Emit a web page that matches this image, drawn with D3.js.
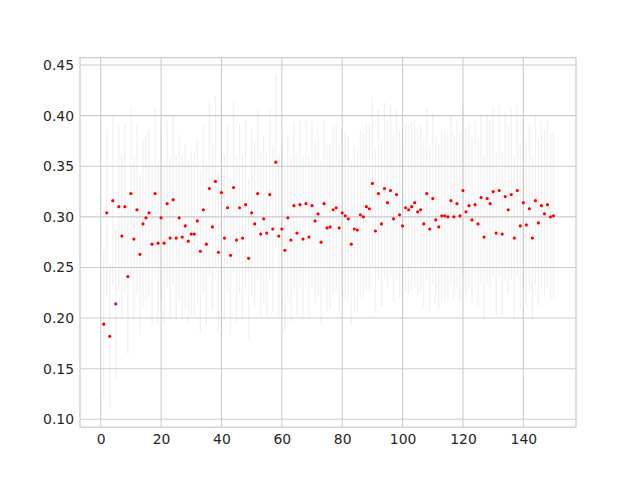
<!DOCTYPE html>
<html>
<head>
<meta charset="utf-8">
<script src="https://cdn.jsdelivr.net/npm/d3@7"></script>
<style>
  body { margin: 0; background: #fff; }
  .tick text { font-family: "DejaVu Sans", sans-serif; font-size: 13.9px; fill: #262626; }
</style>
</head>
<body>
<div id="chart"></div>
<script>

// values, one per trial index 1..150
const values = [
  0.194, 0.304, 0.182, 0.316, 0.214, 0.310, 0.281, 0.310, 0.241, 0.323,
  0.278, 0.307, 0.263, 0.293, 0.299, 0.304, 0.273, 0.323, 0.274, 0.299,
  0.274, 0.313, 0.279, 0.317, 0.279, 0.299, 0.280, 0.291, 0.276, 0.283,
  0.283, 0.296, 0.266, 0.307, 0.273, 0.328, 0.290, 0.335, 0.265, 0.324,
  0.279, 0.309, 0.262, 0.329, 0.277, 0.309, 0.279, 0.312, 0.259, 0.304,
  0.293, 0.323, 0.283, 0.298, 0.284, 0.322, 0.288, 0.354, 0.281, 0.288,
  0.267, 0.299, 0.277, 0.311, 0.284, 0.312, 0.278, 0.313, 0.280, 0.311,
  0.296, 0.303, 0.275, 0.313, 0.289, 0.290, 0.307, 0.309, 0.289, 0.304,
  0.301, 0.298, 0.273, 0.288, 0.287, 0.302, 0.300, 0.310, 0.308, 0.333,
  0.286, 0.323, 0.293, 0.328, 0.314, 0.326, 0.298, 0.322, 0.302, 0.291,
  0.309, 0.307, 0.310, 0.314, 0.305, 0.307, 0.293, 0.323, 0.288, 0.318,
  0.297, 0.290, 0.301, 0.301, 0.300, 0.316, 0.300, 0.313, 0.301, 0.326,
  0.305, 0.311, 0.297, 0.312, 0.293, 0.319, 0.280, 0.318, 0.313, 0.325,
  0.284, 0.326, 0.283, 0.320, 0.307, 0.322, 0.279, 0.326, 0.291, 0.314,
  0.292, 0.308, 0.279, 0.316, 0.294, 0.311, 0.303, 0.312, 0.300, 0.301
];

// half length of each error bar (estimated)
const errors = [
  0.073, 0.083, 0.072, 0.084, 0.075, 0.083, 0.081, 0.083, 0.077, 0.084,
  0.081, 0.083, 0.079, 0.082, 0.082, 0.083, 0.080, 0.084, 0.080, 0.082,
  0.080, 0.083, 0.081, 0.084, 0.081, 0.082, 0.081, 0.082, 0.080, 0.081,
  0.081, 0.082, 0.080, 0.083, 0.080, 0.085, 0.082, 0.085, 0.079, 0.084,
  0.081, 0.083, 0.079, 0.085, 0.081, 0.083, 0.081, 0.083, 0.079, 0.083,
  0.082, 0.084, 0.081, 0.082, 0.081, 0.084, 0.082, 0.086, 0.081, 0.082,
  0.080, 0.082, 0.081, 0.083, 0.081, 0.083, 0.081, 0.083, 0.081, 0.083,
  0.082, 0.083, 0.080, 0.083, 0.082, 0.082, 0.083, 0.083, 0.082, 0.083,
  0.083, 0.082, 0.080, 0.082, 0.081, 0.083, 0.082, 0.083, 0.083, 0.085,
  0.081, 0.084, 0.082, 0.085, 0.083, 0.084, 0.082, 0.084, 0.083, 0.082,
  0.083, 0.083, 0.083, 0.083, 0.083, 0.083, 0.082, 0.084, 0.082, 0.084,
  0.082, 0.082, 0.083, 0.083, 0.082, 0.084, 0.082, 0.083, 0.083, 0.084,
  0.083, 0.083, 0.082, 0.083, 0.082, 0.084, 0.081, 0.084, 0.083, 0.084,
  0.081, 0.084, 0.081, 0.084, 0.083, 0.084, 0.081, 0.084, 0.082, 0.083,
  0.082, 0.083, 0.081, 0.084, 0.082, 0.083, 0.083, 0.083, 0.082, 0.083
];

const xTicks = [0, 20, 40, 60, 80, 100, 120, 140];
const yTicks = [0.10, 0.15, 0.20, 0.25, 0.30, 0.35, 0.40, 0.45];

const width = 640;
const height = 480;
const margin = {left: 80, right: 64, top: 57.6, bottom: 52.8};

const data = values.map((v, i) => ({x: i + 1, y: v, e: errors[i]}));

let svg = d3
  .select("#chart")
  .append("svg")
  .attr("width", width)
  .attr("height", height);

// axis limits
let xScale = d3.scaleLinear()
  .domain([-6.86, 157.45])
  .range([margin.left, width - margin.right]);

let yScale = d3.scaleLinear()
  .domain([0.0922, 0.4573])
  .range([height - margin.bottom, margin.top]);

// grid
svg.append("g")
  .selectAll("line.gx")
  .data(xTicks)
  .enter()
  .append("line")
    .attr("x1", d => xScale(d))
    .attr("x2", d => xScale(d))
    .attr("y1", margin.top)
    .attr("y2", height - margin.bottom)
    .attr("stroke", "#cccccc")
    .attr("stroke-width", 1.1);

svg.append("g")
  .selectAll("line.gy")
  .data(yTicks)
  .enter()
  .append("line")
    .attr("x1", margin.left)
    .attr("x2", width - margin.right)
    .attr("y1", d => yScale(d))
    .attr("y2", d => yScale(d))
    .attr("stroke", "#cccccc")
    .attr("stroke-width", 1.1);

// error bars
svg.append("g")
  .selectAll("line")
  .data(data)
  .enter()
  .append("line")
    .attr("x1", d => xScale(d.x))
    .attr("x2", d => xScale(d.x))
    .attr("y1", d => yScale(d.y - d.e))
    .attr("y2", d => yScale(d.y + d.e))
    .attr("stroke", "#b0b0b0")
    .attr("stroke-opacity", 0.18)
    .attr("stroke-width", 1.3);

// points
svg.append("g")
  .selectAll("circle")
  .data(data)
  .enter()
  .append("circle")
    .attr("cx", d => xScale(d.x))
    .attr("cy", d => yScale(d.y))
    .attr("r", 1.6)
    .attr("fill", "#ff0000");

// frame
svg.append("rect")
  .attr("x", margin.left)
  .attr("y", margin.top)
  .attr("width", width - margin.left - margin.right)
  .attr("height", height - margin.top - margin.bottom)
  .attr("fill", "none")
  .attr("stroke", "#cccccc")
  .attr("stroke-width", 1.25);

// axes, no tick marks
svg.append("g")
  .attr("transform", `translate(0,${height - margin.bottom})`)
  .call(d3.axisBottom(xScale).tickValues(xTicks).tickSize(0).tickPadding(7))
  .call(g => g.select(".domain").remove());

svg.append("g")
  .attr("transform", `translate(${margin.left},0)`)
  .call(d3.axisLeft(yScale).tickValues(yTicks).tickFormat(d3.format(".2f")).tickSize(0).tickPadding(6))
  .call(g => g.select(".domain").remove());

</script>
</body>
</html>
